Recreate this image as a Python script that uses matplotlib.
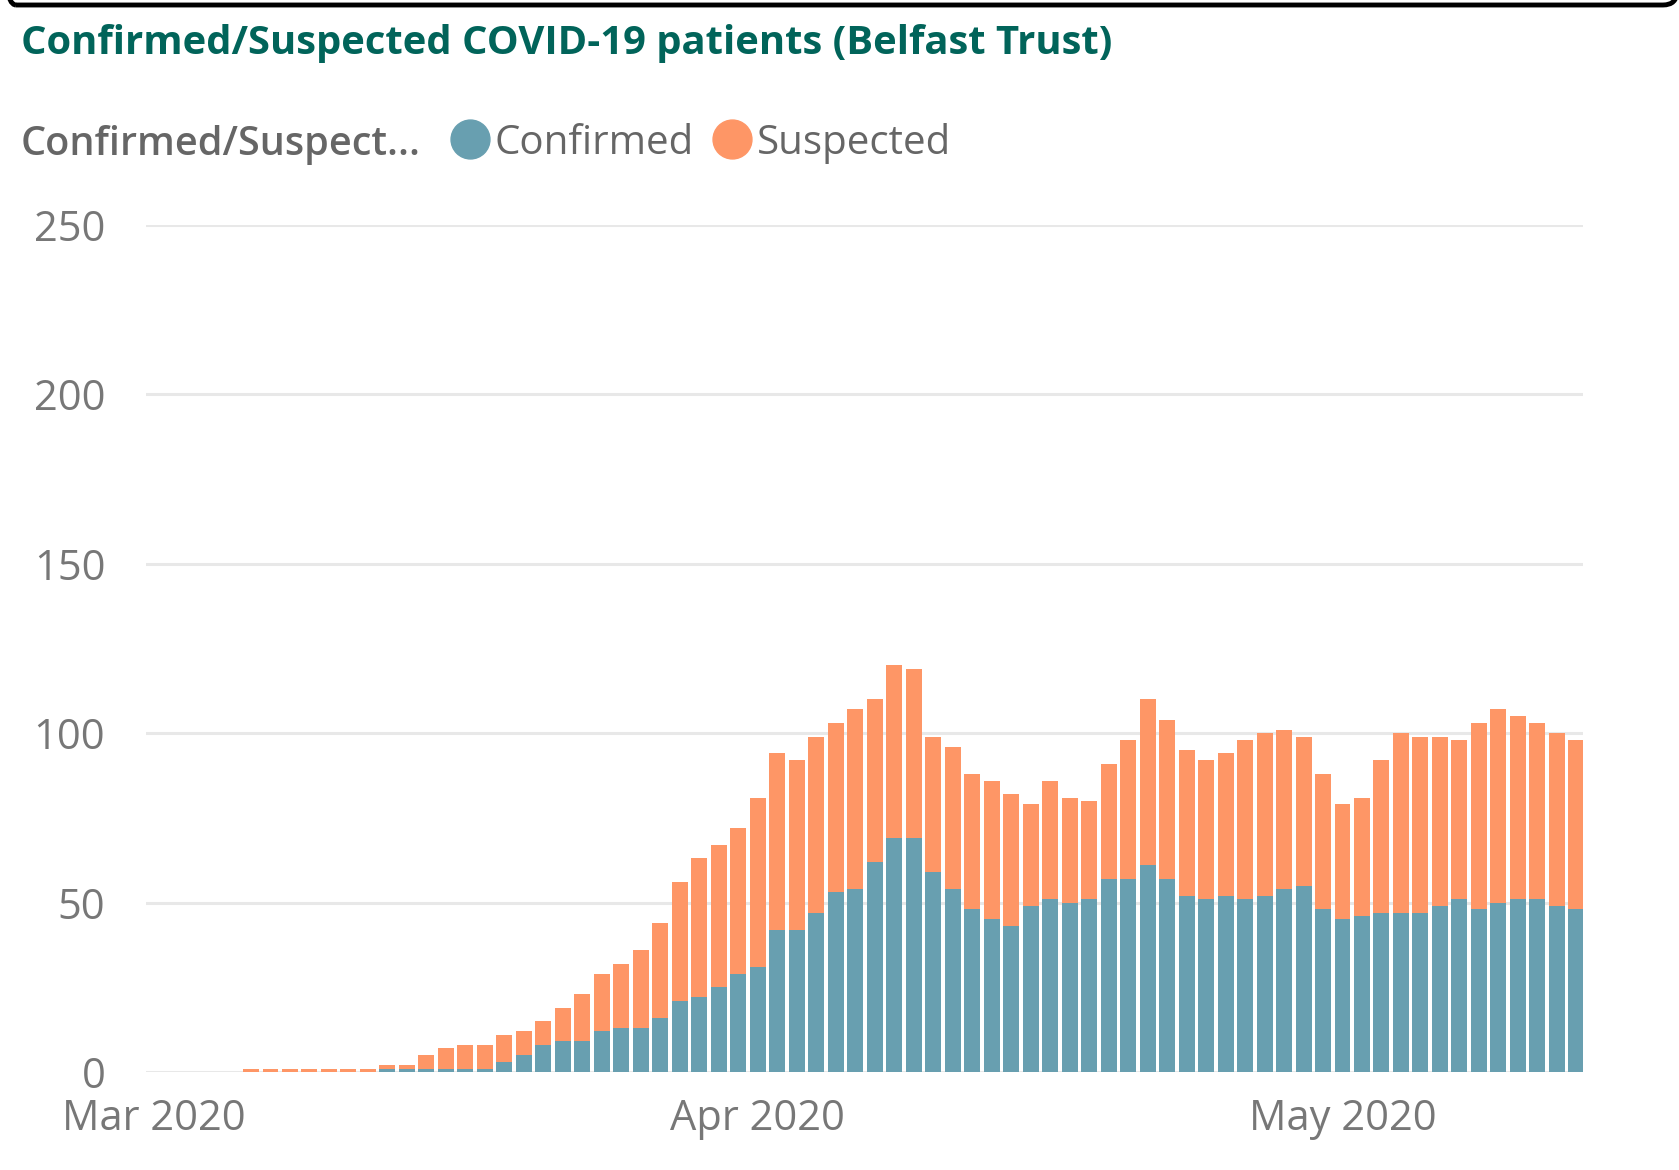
import numpy as np
import matplotlib
matplotlib.use("Agg")
import matplotlib.pyplot as plt
import matplotlib.dates as mdates
from matplotlib.lines import Line2D
from matplotlib.patches import FancyBboxPatch

# daily values, 6 Mar 2020 .. 13 May 2020
start_date = np.datetime64("2020-03-06")
confirmed = [0, 0, 0, 0, 0, 0, 0, 1, 1, 1, 1, 1, 1, 3, 5, 8, 9, 9, 12, 13,
             13, 16, 21, 22, 25, 29, 31, 42, 42, 47, 53, 54, 62, 69, 69, 59, 54, 48, 45, 43,
             49, 51, 50, 51, 57, 57, 61, 57, 52, 51, 52, 51, 52, 54, 55, 48, 45, 46, 47, 47,
             47, 49, 51, 48, 50, 51, 51, 49, 48]
total = [1, 1, 1, 1, 1, 1, 1, 2, 2, 5, 7, 8, 8, 11, 12, 15, 19, 23, 29, 32,
         36, 44, 56, 63, 67, 72, 81, 94, 92, 99, 103, 107, 110, 120, 119, 99, 96, 88, 86, 82,
         79, 86, 81, 80, 91, 98, 110, 104, 95, 92, 94, 98, 100, 101, 99, 88, 79, 81, 92, 100,
         99, 99, 98, 103, 107, 105, 103, 100, 98]
suspected = [t - c for t, c in zip(total, confirmed)]
dates = start_date + np.arange(len(total))

series_names = ["Confirmed", "Suspected"]
teal = "#689FB0"
orange = "#FE9666"

plt.rcParams['font.family'] = ['Open Sans', 'DejaVu Sans']

fig = plt.figure(figsize=(16.79, 11.70), dpi=100)
ax = fig.add_axes([0.0867, 0.0838, 0.8559, 0.724])

d = mdates.date2num(dates)
ax.bar(d, confirmed, width=0.82, color=teal, zorder=3)
ax.bar(d, suspected, width=0.82, bottom=confirmed, color=orange, zorder=3)

x0 = mdates.date2num(np.datetime64("2020-03-01"))
ax.set_xlim(x0 - 0.41, x0 + 73.32)
ax.set_ylim(0, 250)
ax.set_yticks([0, 50, 100, 150, 200, 250])
ax.yaxis.grid(True, color="#E8E8E8", linewidth=2.2, zorder=0)
ax.set_axisbelow(True)
for s in ax.spines.values():
    s.set_visible(False)

ax.xaxis.set_major_locator(mdates.MonthLocator())
ax.xaxis.set_major_formatter(mdates.DateFormatter("%b %Y"))
ax.tick_params(axis="both", length=0, labelsize=30, labelcolor="#777777")
ax.tick_params(axis="y", pad=29)
ax.tick_params(axis="x", pad=19)

fig.text(21 / 1679, 1 - 54 / 1170, "Confirmed/Suspected COVID-19 patients (Belfast Trust)",
         fontsize=28.8, fontweight="bold", color="#01645A", va="baseline", ha="left")

fig.text(21 / 1679, 1 - 145 / 1170, "Confirmed/Suspect...", fontsize=28.5,
         fontweight="semibold", color="#666666", va="center", ha="left")
handles = [Line2D([], [], linestyle="none", marker="o", markersize=28, color=c)
           for c in (teal, orange)]
fig.legend(handles, series_names, loc="center left", bbox_to_anchor=(455 / 1679, 1 - 143 / 1170),
           ncol=2, frameon=False, fontsize=29, labelcolor="#666666",
           handlelength=0.72, handletextpad=0.25, columnspacing=0.6, borderpad=0, borderaxespad=0)

# frame edge of the visual above
fig.patches.append(FancyBboxPatch((2, 1165), 1675, 100, boxstyle="round,pad=0,rounding_size=14",
                                  transform=None, facecolor="none", edgecolor="black",
                                  linewidth=3.5, figure=fig, clip_on=False))

fig.savefig("out.png", dpi=100)
